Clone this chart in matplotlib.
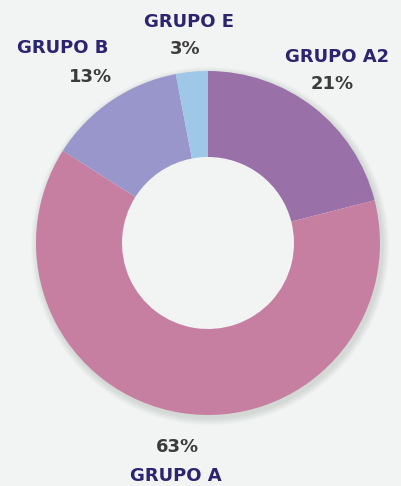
import matplotlib.pyplot as plt

# data
groups = ['GRUPO A2', 'GRUPO A', 'GRUPO B', 'GRUPO E']
shares = [21, 63, 13, 3]
colors = ['#9a70a8', '#c67fa0', '#9996cb', '#9fc7e8']

bg = '#f2f4f3'
navy = '#2b2570'
grey = '#3b3b3b'

fig = plt.figure(figsize=(4.01, 4.86), dpi=100, facecolor=bg)
ax = fig.add_axes([0, 0, 1, 1])

cx, cy, r = 208, 486 - 243, 172

# soft shadow outside the ring
for i in range(7):
    ax.pie([1], radius=r + 1 + i, center=(cx + 2, cy - 3), colors=['#8d9a94'],
           wedgeprops=dict(width=20, alpha=0.045, linewidth=0), frame=True)

ax.pie(shares, radius=r, center=(cx, cy), colors=colors, startangle=90,
       counterclock=False, wedgeprops=dict(width=r * 0.5, linewidth=0), frame=True)
ax.set_xlim(0, 401)
ax.set_ylim(0, 486)
ax.set_aspect('equal')
ax.axis('off')

def y(v):
    return 486 - v

fs = 13
ax.text(189, y(22), 'GRUPO E', ha='center', va='center', fontsize=fs, fontweight='bold', color=navy)
ax.text(185, y(49), '3%', ha='center', va='center', fontsize=fs, fontweight='bold', color=grey)
ax.text(63, y(48), 'GRUPO B', ha='center', va='center', fontsize=fs, fontweight='bold', color=navy)
ax.text(112, y(77), '13%', ha='right', va='center', fontsize=fs, fontweight='bold', color=grey)
ax.text(337, y(57), 'GRUPO A2', ha='center', va='center', fontsize=fs, fontweight='bold', color=navy)
ax.text(332, y(84), '21%', ha='center', va='center', fontsize=fs, fontweight='bold', color=grey)
ax.text(177, y(447), '63%', ha='center', va='center', fontsize=fs, fontweight='bold', color=grey)
ax.text(176, y(476), 'GRUPO A', ha='center', va='center', fontsize=fs, fontweight='bold', color=navy)

fig.savefig('out.png', dpi=100, facecolor=bg)
